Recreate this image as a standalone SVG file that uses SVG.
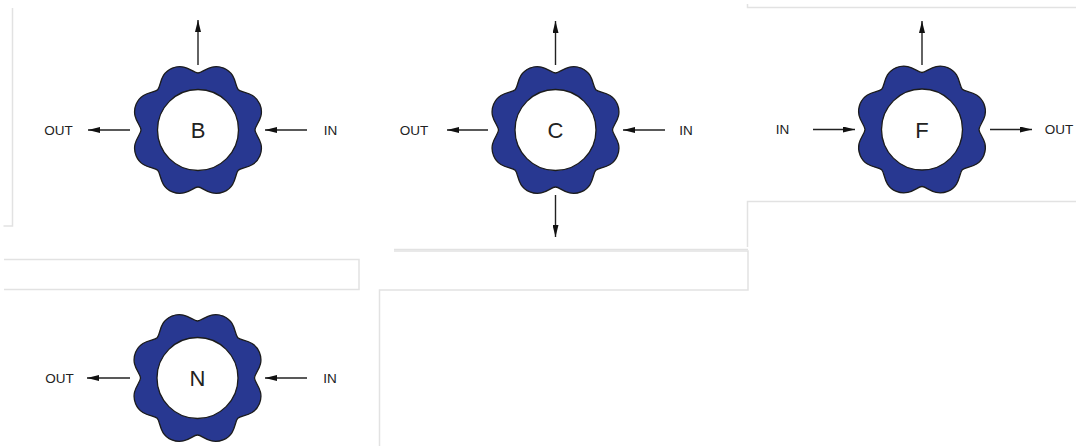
<svg xmlns="http://www.w3.org/2000/svg" width="1076" height="446" viewBox="0 0 1076 446">
  <style>
    .panel { fill: none; stroke: #e2e2e2; stroke-width: 1.5; }
    .flower { fill: #283891; stroke: #1c1c1c; stroke-width: 1.3; }
    .hole { fill: #ffffff; stroke: #1c1c1c; stroke-width: 1.3; }
    .letter { font-family: "Liberation Sans", Arial, sans-serif; font-size: 22px; fill: #222; text-anchor: middle; }
    .lbl { font-family: "Liberation Sans", Arial, sans-serif; font-size: 13.5px; fill: #222; text-anchor: middle; }
    .conn { stroke: #222; stroke-width: 1.4; fill: none; marker-end: url(#ah); }
  </style>
  <defs>
    <marker id="ah" viewBox="0 0 12 6" refX="12" refY="3" markerWidth="12" markerHeight="6" orient="auto" markerUnits="userSpaceOnUse">
      <path d="M0,0 L12,3 L0,6 z" fill="#111"/>
    </marker>
    <path id="ring" d="M57,0 C57,5 67.26,12.71 61.90,25.64 C56.54,38.57 43.85,36.77 40.31,40.31 C36.77,43.85 38.57,56.54 25.64,61.90 C12.71,67.26 5,57 0,57 C-5,57 -12.71,67.26 -25.64,61.90 C-38.57,56.54 -36.77,43.85 -40.31,40.31 C-43.85,36.77 -56.54,38.57 -61.90,25.64 C-67.26,12.71 -57,5 -57,0 C-57,-5 -67.26,-12.71 -61.90,-25.64 C-56.54,-38.57 -43.85,-36.77 -40.31,-40.31 C-36.77,-43.85 -38.57,-56.54 -25.64,-61.90 C-12.71,-67.26 -5,-57 0,-57 C5,-57 12.71,-67.26 25.64,-61.90 C38.57,-56.54 36.77,-43.85 40.31,-40.31 C43.85,-36.77 56.54,-38.57 61.90,-25.64 C67.26,-12.71 57,-5 57,0 Z"/>
  </defs>

  <g id="panels" class="panel">
    <path d="M12.5,8 L12.5,226 L3.5,226"/>
    <path d="M747.5,4 L747.5,7.5 L1076,7.5"/>
    <path d="M1076,201.5 L747.5,201.5 L747.5,247"/>
    <path d="M394,249.5 L748,249.5"/>
    <path d="M394,251 L748,251 L748,290 L379.5,290 L379.5,446"/>
    <path d="M4,259.5 L359,259.5 L359,289.5 L4,289.5"/>
  </g>

  <g id="node-B">
    <use href="#ring" class="flower" transform="translate(198,130)"/>
    <circle class="hole" cx="198" cy="130" r="40.5"/>
    <text class="letter" x="198" y="138">B</text>
  </g>
  <g id="node-C">
    <use href="#ring" class="flower" transform="translate(555.5,130)"/>
    <circle class="hole" cx="555.5" cy="130" r="40.5"/>
    <text class="letter" x="555.5" y="138">C</text>
  </g>
  <g id="node-F">
    <use href="#ring" class="flower" transform="translate(922,129.5)"/>
    <circle class="hole" cx="922" cy="129.5" r="40.5"/>
    <text class="letter" x="922" y="137.5">F</text>
  </g>
  <g id="node-N">
    <use href="#ring" class="flower" transform="translate(197.5,378)"/>
    <circle class="hole" cx="197.5" cy="378" r="40.5"/>
    <text class="letter" x="197.5" y="386">N</text>
  </g>

  <g id="connectors">
    <line class="conn" x1="198" y1="65" x2="198" y2="20"/>
    <line class="conn" x1="130" y1="130" x2="88" y2="130"/>
    <line class="conn" x1="307" y1="130" x2="265" y2="130"/>

    <line class="conn" x1="555.5" y1="65" x2="555.5" y2="21"/>
    <line class="conn" x1="555.5" y1="195" x2="555.5" y2="237"/>
    <line class="conn" x1="488" y1="130" x2="447" y2="130"/>
    <line class="conn" x1="665" y1="130" x2="623" y2="130"/>

    <line class="conn" x1="922" y1="65" x2="922" y2="21"/>
    <line class="conn" x1="813" y1="129.5" x2="855" y2="129.5"/>
    <line class="conn" x1="990" y1="129.5" x2="1032" y2="129.5"/>

    <line class="conn" x1="130" y1="378" x2="87" y2="378"/>
    <line class="conn" x1="307" y1="378" x2="265" y2="378"/>
  </g>

  <g id="labels">
    <text class="lbl" x="58.5" y="134.8">OUT</text>
    <text class="lbl" x="330.5" y="134.8">IN</text>
    <text class="lbl" x="414" y="134.8">OUT</text>
    <text class="lbl" x="686" y="134.8">IN</text>
    <text class="lbl" x="782.5" y="134.3">IN</text>
    <text class="lbl" x="1059" y="134.3">OUT</text>
    <text class="lbl" x="59.5" y="382.8">OUT</text>
    <text class="lbl" x="330" y="382.8">IN</text>
  </g>
</svg>
